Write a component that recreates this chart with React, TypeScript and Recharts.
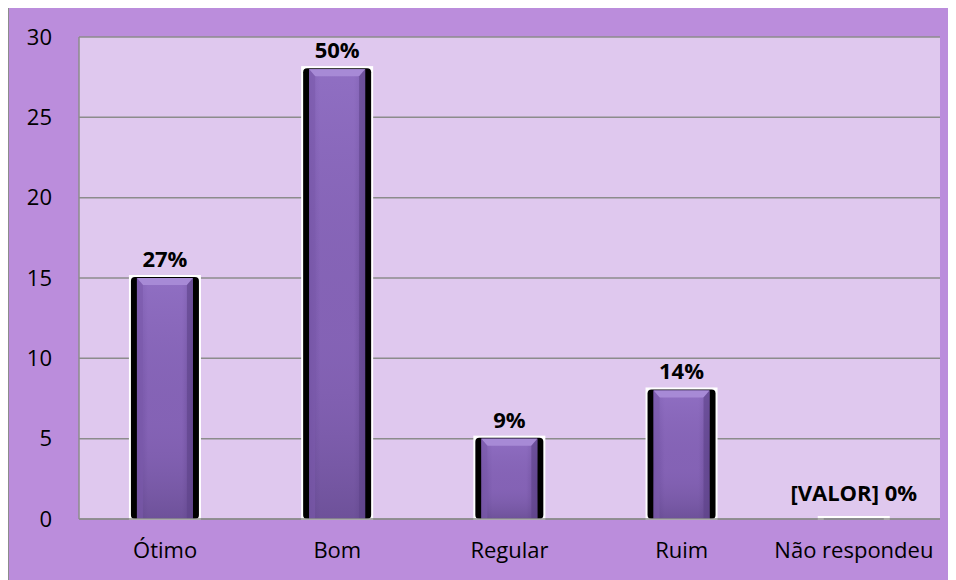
import React from 'react';
import { BarChart, Bar, XAxis, YAxis, CartesianGrid, LabelList } from 'recharts';

const categories = ['Ótimo', 'Bom', 'Regular', 'Ruim', 'Não respondeu'];
const counts = [15, 28, 5, 8, 0];
const percentLabels = ['27%', '50%', '9%', '14%', '[VALOR] 0%'];
const yTicks = [0, 5, 10, 15, 20, 25, 30];

const data = categories.map((name, i) => ({ name, value: counts[i], label: percentLabels[i] }));

const FONT = "'Open Sans', sans-serif";

// bevelled bar: white backing, black sides, purple body with a lighter top facet
const BevelBar = (props: any) => {
  const { x, y, width, height } = props;
  const h = Math.max(height, 0);
  const top = y - 3;
  const bottom = y + h + 1;
  const px = x + 8;
  const pw = width - 16;
  return (
    <g>
      <rect x={x} y={top} width={width} height={bottom - top} fill="#ffffff" />
      {h > 0 && (
        <>
          <rect x={x + 2} y={y - 1} width={width - 4} height={h + 1} rx={4} fill="#000000" />
          <rect x={px} y={y} width={pw} height={h} fill="url(#barBody)" />
          <rect x={px} y={y} width={pw} height={h} fill="url(#barShade)" />
          <polygon
            points={`${px},${y} ${px + pw},${y} ${px + pw - 6},${y + 7} ${px + 6},${y + 7}`}
            fill="#a78ad6"
          />
          <polygon points={`${px},${y} ${px + 6},${y + 7} ${px + 6},${y + h} ${px},${y + h}`} fill="#7b5aab" opacity={0.6} />
          <polygon points={`${px + pw},${y} ${px + pw - 6},${y + 7} ${px + pw - 6},${y + h} ${px + pw},${y + h}`} fill="#5e4388" opacity={0.6} />
        </>
      )}
      {h === 0 && <rect x={x + 6} y={y - 1} width={width - 12} height={2} fill="#8a8a9a" />}
    </g>
  );
};

const TopLabel = (props: any) => {
  const { x, y, width, height, value } = props;
  const lift = height > 0 ? 11 : 18;
  return (
    <text
      x={x + width / 2}
      y={y - lift}
      textAnchor="middle"
      fill="#000000"
      fontWeight="bold"
      fontSize={22}
      fontFamily={FONT}
    >
      {value}
    </text>
  );
};

export default function App() {
  return (
    <div
      style={{
        width: 946,
        height: 572,
        marginTop: -1,
        background: '#bb8ddc',
        border: '1px solid #8c8c8c',
        fontFamily: FONT,
      }}
    >
      <BarChart
        width={946}
        height={572}
        data={data}
        margin={{ top: 29, right: 15, left: 0, bottom: 6 }}
        barCategoryGap="29%"
      >
        <defs>
          <linearGradient id="barBody" x1="0" y1="0" x2="1" y2="0">
            <stop offset="0%" stopColor="#6f50a0" />
            <stop offset="20%" stopColor="#8563b6" />
            <stop offset="80%" stopColor="#8563b6" />
            <stop offset="100%" stopColor="#6a4c98" />
          </linearGradient>
          <linearGradient id="barShade" x1="0" y1="0" x2="0" y2="1">
            <stop offset="0%" stopColor="#9b7bd0" stopOpacity={0.5} />
            <stop offset="60%" stopColor="#7e5eae" stopOpacity={0.1} />
            <stop offset="100%" stopColor="#5e4586" stopOpacity={0.6} />
          </linearGradient>
        </defs>
        <CartesianGrid vertical={false} stroke="#8c8c8c" strokeWidth={1.5} fill="#dfc8ee" fillOpacity={1} />
        <XAxis
          dataKey="name"
          axisLine={{ stroke: '#8c8c8c', strokeWidth: 1.5 }}
          tickLine={false}
          tickSize={0}
          tickMargin={23}
          height={55}
          tick={{ fill: '#000000', fontSize: 22, fontFamily: FONT }}
          interval={0}
        />
        <YAxis
          domain={[0, 30]}
          ticks={yTicks}
          width={70}
          axisLine={{ stroke: '#8c8c8c', strokeWidth: 1.5 }}
          tickLine={false}
          tickSize={0}
          tickMargin={27}
          tick={{ fill: '#000000', fontSize: 22, fontFamily: FONT }}
        />
        <YAxis
          yAxisId="right"
          orientation="right"
          domain={[0, 30]}
          width={0}
          tick={false}
          tickLine={false}
          axisLine={{ stroke: '#8c8c8c', strokeWidth: 1.5 }}
        />
        <Bar dataKey="value" shape={<BevelBar />} isAnimationActive={false}>
          <LabelList dataKey="label" content={<TopLabel />} />
        </Bar>
      </BarChart>
    </div>
  );
}
